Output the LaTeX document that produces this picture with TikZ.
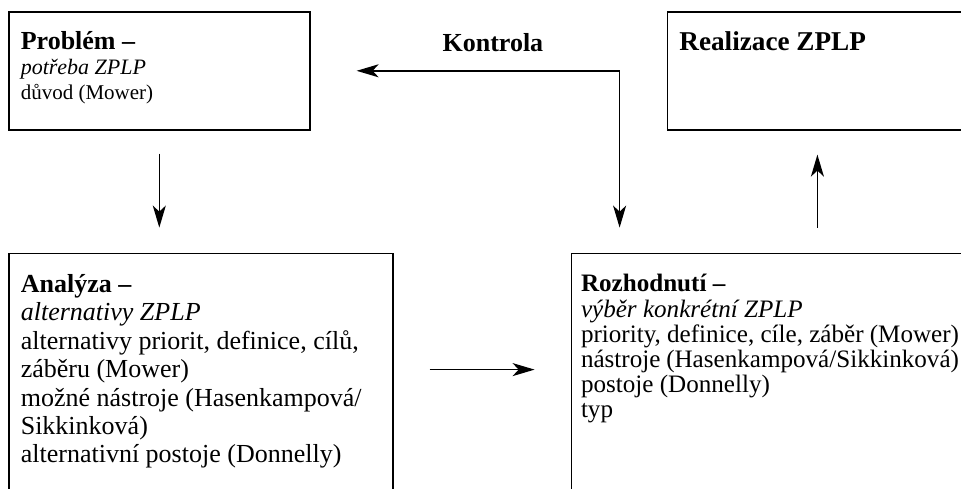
\documentclass[tikz,border=0pt]{standalone}
\usepackage{fontspec}
\setmainfont{Liberation Serif}
\usetikzlibrary{arrows.meta,positioning}
\tikzset{
  stage/.style n args={3}{draw,line width=0.8pt,anchor=north west,
              inner xsep=6pt,inner ysep=10.5pt,font=#3,
              execute at begin node={\begin{minipage}[t][#2][t]{#1}},
              execute at end node={\end{minipage}}},
  tip/.tip={Stealth[length=11pt,width=6.5pt,inset=3pt]},
  arr/.style={-tip,line width=0.8pt},
  darr/.style={tip-tip,line width=0.8pt},
  kontr/.style={font=\fontsize{13}{14}\selectfont\bfseries,inner sep=0pt},
}

\begin{document}
\begin{tikzpicture}
  \useasboundingbox (0,0) rectangle (480.5pt,-244pt);

  %% ── upper boxes ──────────────────────────────────────────────────────────
  \node[stage={138.5pt}{39pt}{\fontsize{10.5}{12.5}\selectfont},
        inner ysep=10pt] (prob) at (4pt,-5.5pt)
        {\textbf{\fontsize{13}{12.5}\selectfont Problém –}\\
         \textit{\fontsize{11}{12.5}\selectfont potřeba ZPLP}\\
         důvod (Mower)};
  \node[stage={138pt}{39pt}{\fontsize{13.6}{15}\selectfont},
        inner ysep=10pt,right=178pt of prob.north east,anchor=north west] (real)
        {\textbf{Realizace ZPLP}};

  %% ── lower boxes ──────────────────────────────────────────────────────────
  \node[stage={180pt}{109pt}{\fontsize{13}{14.2}\selectfont},
        below=61pt of prob.south west,anchor=north west] (anal)
        {\textbf{Analýza –}\\
         \textit{alternativy ZPLP}\\
         alternativy priorit, definice, cílů,\\
         záběru (Mower)\\
         možné nástroje (Hasenkampová/\\
         Sikkinková)\\
         alternativní postoje (Donnelly)};
  \node[stage={189pt}{109pt}{\fontsize{12.55}{12.6}\selectfont},
        inner xsep=4.8pt,right=88.5pt of anal.north east,anchor=north west] (rozh)
        {\textbf{Rozhodnutí –}\\
         \textit{výběr konkrétní ZPLP}\\
         priority, definice, cíle, záběr (Mower)\\
         nástroje (Hasenkampová/Sikkinková)\\
         postoje (Donnelly)\\
         typ};

  %% ── arrows ───────────────────────────────────────────────────────────────
  \draw[arr,shorten <=11.5pt,shorten >=12.5pt] (prob.south) -- (prob.south |- anal.north);
  \draw[arr,shorten <=18pt,shorten >=18pt]
    ([yshift=-58.5pt]anal.north east) -- ([yshift=-58.5pt]rozh.north west);
  \draw[arr,shorten <=12.5pt,shorten >=12pt] (real.south |- rozh.north) -- (real.south);

  %% ── control loop ─────────────────────────────────────────────────────────
  \draw[darr,shorten <=12.5pt,shorten >=23pt]
    ([xshift=24.5pt]rozh.north west) |- (prob.east)
    node[kontr,pos=0.705,above=9pt] (ctrl) {Kontrola};

\end{tikzpicture}
\end{document}
